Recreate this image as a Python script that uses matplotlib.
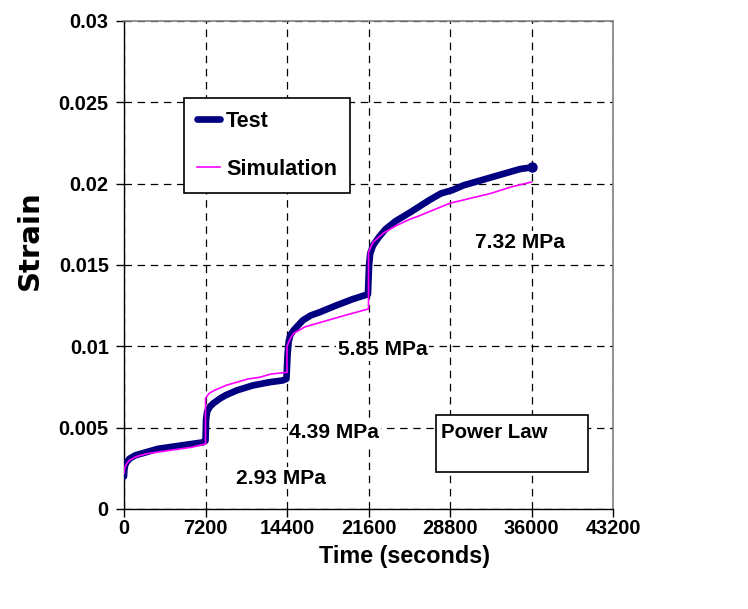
import matplotlib
matplotlib.use("Agg")
import matplotlib.pyplot as plt
from matplotlib import font_manager
from matplotlib.patches import Rectangle

# Creep test: measured strain vs. power-law simulation under stepped stress
test_time = [0, 30, 100, 250, 500, 1000, 1500, 2000, 3000, 4000, 5000, 6000, 7000, 7200,
             7250, 7350, 7600, 7900, 8500, 9000, 10000, 11400, 12900, 14000, 14350,
             14450, 14550, 14700, 15000, 15800, 16500, 17300, 18700, 20200, 21550,
             21650, 21750, 22000, 22500, 23100, 24000, 25200, 26100, 27000, 28000,
             29000, 30000, 31000, 32000, 33000, 34000, 35000, 36000]
test_strain = [0.0020, 0.0024, 0.0027, 0.0029, 0.0031, 0.0033, 0.0034, 0.0035, 0.0037, 0.0038, 0.0039, 0.0040, 0.0041, 0.0042,
               0.0055, 0.0060, 0.0063, 0.0065, 0.0068, 0.0070, 0.0073, 0.0076, 0.0078, 0.0079, 0.0080,
               0.0095, 0.0103, 0.0107, 0.0110, 0.0116, 0.0119, 0.0121, 0.0125, 0.0129, 0.0132,
               0.0150, 0.0157, 0.0162, 0.0167, 0.0172, 0.0177, 0.0182, 0.0186, 0.0190, 0.0194,
               0.0196, 0.0199, 0.0201, 0.0203, 0.0205, 0.0207, 0.0209, 0.0210]

sim_time = [0, 30, 100, 250, 500, 1000, 2000, 3000, 4000, 5000, 6000, 7200,
            7201, 7500, 8000, 9000, 10000, 11000, 12000, 13000, 14400,
            14401, 14700, 15000, 16000, 17000, 18000, 19500, 21600,
            21601, 22000, 23000, 24000, 25200, 26000, 28800, 30600, 32400, 34200, 36000]
sim_strain = [0.0022, 0.0024, 0.0026, 0.0028, 0.0030, 0.0032, 0.0034, 0.0035, 0.0036, 0.0037, 0.0038, 0.0040,
              0.0068, 0.0071, 0.0073, 0.0076, 0.0078, 0.0080, 0.0081, 0.0083, 0.0084,
              0.0100, 0.0105, 0.0108, 0.0112, 0.0114, 0.0116, 0.0119, 0.0123,
              0.0158, 0.0164, 0.0170, 0.0174, 0.0178, 0.0180, 0.0188, 0.0191, 0.0194, 0.0198, 0.0201]

x_ticks = [0, 7200, 14400, 21600, 28800, 36000, 43200]
y_ticks = [0, 0.005, 0.01, 0.015, 0.02, 0.025, 0.03]
y_tick_labels = ["0", "0.005", "0.01", "0.015", "0.02", "0.025", "0.03"]

stress_labels = ["2.93 MPa", "4.39 MPa", "5.85 MPa", "7.32 MPa"]
stress_label_pos = [(9900, 0.0019), (14600, 0.0047), (18900, 0.0098), (31000, 0.0164)]

# condensed bold face for all chart text, if the narrow variant is present
installed = {f.name for f in font_manager.fontManager.ttflist}
if 'Liberation Sans Narrow' in installed:
    face, k = 'Liberation Sans Narrow', 1.0
else:
    face, k = 'Liberation Sans', 0.84

plt.rcParams['font.family'] = [face, 'DejaVu Sans']
plt.rcParams['font.weight'] = 'bold'

fig = plt.figure(figsize=(7.48, 6.09), dpi=100)
ax = fig.add_axes([124 / 748, 1 - 509 / 609, (613 - 124) / 748, (509 - 21) / 609])

ax.plot(test_time, test_strain, color='#000080', lw=4.8, solid_capstyle='round',
        solid_joinstyle='round', label='Test', zorder=3)
ax.plot(test_time[-1], test_strain[-1], 'o', color='#000080', ms=6.5, zorder=3)
ax.plot(sim_time, sim_strain, color='#FF00FF', lw=1.2, label='Simulation', zorder=4)

ax.set_xlim(0, 43200)
ax.set_ylim(0, 0.03)
ax.set_xticks(x_ticks)
ax.set_xticklabels([str(v) for v in x_ticks])
ax.set_yticks(y_ticks)
ax.set_yticklabels(y_tick_labels)
ax.tick_params(direction='out', length=6, width=1, color='black', labelsize=17 * k)
ax.tick_params(axis='x', pad=1.5)
ax.tick_params(axis='y', pad=5)
for lab in ax.get_xticklabels() + ax.get_yticklabels():
    lab.set_fontweight('bold')

ax.grid(True, color='black', lw=0.9, linestyle=(0, (6, 4.5)))
ax.set_axisbelow(True)
for side in ('left', 'bottom'):
    ax.spines[side].set_color('black')
    ax.spines[side].set_linewidth(1.0)
for side in ('top', 'right'):
    ax.spines[side].set_color('#808080')
    ax.spines[side].set_linewidth(1.2)

fig.text(404 / 748, 1 - 556 / 609, 'Time (seconds)', fontsize=20 * k, fontweight='bold',
         ha='center', va='center')
fig.text(30 / 748, 1 - 240 / 609, 'Strain', rotation=90, fontsize=21, fontweight='bold',
         family='DejaVu Sans', ha='center', va='center')

for txt, (tx, ty) in zip(stress_labels, stress_label_pos):
    ax.text(tx, ty, txt, fontsize=18 * k, fontweight='bold', ha='left', va='center',
            bbox=dict(facecolor='white', edgecolor='none', pad=1), zorder=5)

# model annotation box
fig.patches.append(Rectangle((436 / 748, 1 - 472 / 609), (588 - 436) / 748, (472 - 415) / 609,
                             transform=fig.transFigure, facecolor='white', edgecolor='black',
                             lw=1.2, zorder=5))
fig.text(441 / 748, 1 - 433 / 609, 'Power Law', fontsize=17.5 * k, fontweight='bold',
         ha='left', va='center', zorder=6)

leg = ax.legend(loc='upper left', bbox_to_anchor=(184 / 748, 1 - 98 / 609),
                bbox_transform=fig.transFigure, borderaxespad=0, fancybox=False,
                framealpha=1, edgecolor='black', fontsize=18.5 * k, handlelength=1.05,
                handletextpad=0.3, labelspacing=1.25, borderpad=0.6)
leg.get_frame().set_linewidth(1.2)
for t in leg.get_texts():
    t.set_fontweight('bold')
leg.set_zorder(6)

fig.savefig('out.png', dpi=100)
